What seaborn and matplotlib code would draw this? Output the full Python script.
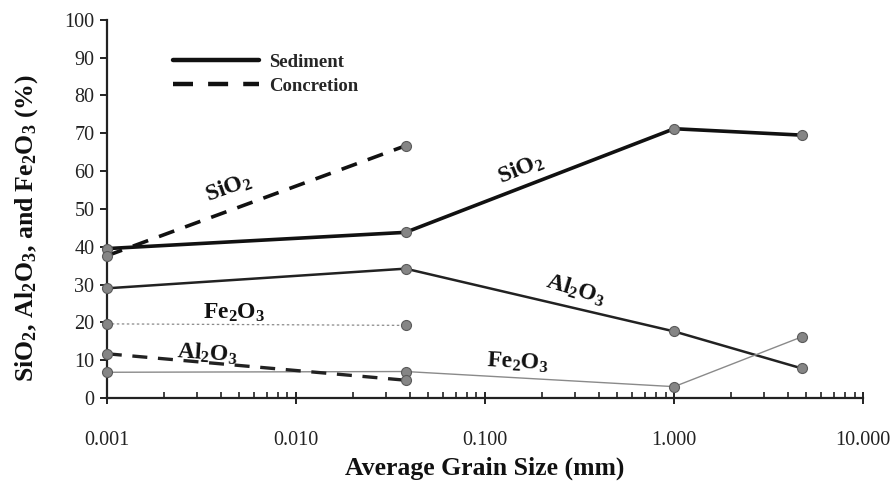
import numpy as np
import pandas as pd
import matplotlib
matplotlib.use("Agg")
import matplotlib.pyplot as plt
from matplotlib.lines import Line2D
from matplotlib.ticker import FixedLocator, FuncFormatter, LogLocator, NullFormatter
import seaborn as sns

# Average grain size of each fraction (mm)
sediment_size = [0.001, 0.038, 1.0, 4.75]
concretion_size = [0.001, 0.038]

# Oxide contents (%)
sediment_sio2 = [39.5, 43.8, 71.2, 69.5]
sediment_al2o3 = [29.0, 34.2, 17.6, 7.8]
sediment_fe2o3 = [6.8, 7.0, 3.0, 16.2]
concretion_sio2 = [37.6, 66.7]
concretion_al2o3 = [11.7, 4.7]
concretion_fe2o3 = [19.6, 19.2]

x_ticks = [0.001, 0.01, 0.1, 1.0, 10.0]
y_ticks = list(range(0, 101, 10))

sns.set_theme(style="white")
plt.rcParams["font.family"] = ["Liberation Serif", "DejaVu Serif"]
plt.rcParams["mathtext.fontset"] = "custom"
plt.rcParams["mathtext.rm"] = "Liberation Serif"
plt.rcParams["mathtext.bf"] = "Liberation Serif:bold"
plt.rcParams["mathtext.it"] = "Liberation Serif:italic"

frames = []
for name, xs, ys in [
    ("sed_sio2", sediment_size, sediment_sio2),
    ("sed_al2o3", sediment_size, sediment_al2o3),
    ("sed_fe2o3", sediment_size, sediment_fe2o3),
    ("con_sio2", concretion_size, concretion_sio2),
    ("con_al2o3", concretion_size, concretion_al2o3),
    ("con_fe2o3", concretion_size, concretion_fe2o3),
]:
    frames.append(pd.DataFrame({"series": name, "size": xs, "pct": ys}))
df = pd.concat(frames, ignore_index=True)

styles = {
    "sed_sio2": dict(color="#111111", lw=2.6, dashes=None),
    "sed_al2o3": dict(color="#222222", lw=1.8, dashes=None),
    "sed_fe2o3": dict(color="#8a8a8a", lw=1.0, dashes=None),
    "con_sio2": dict(color="#111111", lw=2.6, dashes=(4.5, 3.2)),
    "con_al2o3": dict(color="#222222", lw=2.4, dashes=(4.5, 3.2)),
    "con_fe2o3": dict(color="#8a8a8a", lw=0.9, dashes=(2.0, 2.0)),
}

fig = plt.figure(figsize=(8.9, 4.83), dpi=100)
ax = fig.add_axes([0.120, 0.176, 0.850, 0.783])

for name, st in styles.items():
    sub = df[df["series"] == name]
    sns.lineplot(data=sub, x="size", y="pct", ax=ax, estimator=None, sort=False,
                 color=st["color"], linewidth=st["lw"], legend=False)
    line = ax.lines[-1]
    if st["dashes"] is not None:
        line.set_dashes(st["dashes"])
    line.set_clip_on(False)
    ax.scatter(sub["size"], sub["pct"], s=52, color="#858585",
               edgecolor="#5a5a5a", linewidth=0.8, zorder=5, clip_on=False)

ax.set_xscale("log")
ax.set_xlim(0.001, 10)
ax.set_ylim(0, 100)

ax.xaxis.set_major_locator(FixedLocator(x_ticks))
ax.xaxis.set_major_formatter(FuncFormatter(lambda v, p: f"{v:.3f}"))
ax.xaxis.set_minor_locator(LogLocator(base=10, subs=np.arange(2, 10)))
ax.xaxis.set_minor_formatter(NullFormatter())
ax.yaxis.set_major_locator(FixedLocator(y_ticks))

for side in ["top", "right"]:
    ax.spines[side].set_visible(False)
for side in ["left", "bottom"]:
    ax.spines[side].set_color("#222222")
    ax.spines[side].set_linewidth(1.6)

ax.tick_params(axis="x", which="major", direction="inout", length=9, width=1.4,
               color="#222222", labelsize=14.5, pad=19, bottom=True)
ax.tick_params(axis="x", which="minor", direction="in", length=4, width=1.2,
               color="#222222", bottom=True)
ax.tick_params(axis="y", which="major", direction="out", length=5, width=1.4,
               color="#222222", labelsize=14.5, pad=4, left=True)
for lab in ax.get_xticklabels() + ax.get_yticklabels():
    lab.set_color("#222222")

ax.set_xlabel("Average Grain Size (mm)", fontsize=18.5, fontweight="bold",
              color="#111111", labelpad=5)
ax.set_ylabel(r"$\mathbf{SiO_2,\,Al_2O_3,\,and\ Fe_2O_3\ (\%)}$", fontsize=18.5,
              color="#111111")
ax.yaxis.set_label_coords(-0.088, 0.45)

# Oxide labels along the curves
tkw = dict(fontsize=17, color="#111111", ha="center", va="center")
ax.text(0.0044, 55.5, r"$\mathbf{SiO_2}$", rotation=20, **tkw)
ax.text(0.155, 60.5, r"$\mathbf{SiO_2}$", rotation=22, **tkw)
ax.text(0.30, 28.6, r"$\mathbf{Al_2O_3}$", rotation=-17, **tkw)
ax.text(0.0047, 22.5, r"$\mathbf{Fe_2O_3}$", rotation=0, **tkw)
ax.text(0.0034, 11.8, r"$\mathbf{Al_2O_3}$", rotation=-4, **tkw)
ax.text(0.148, 9.4, r"$\mathbf{Fe_2O_3}$", rotation=-3, **tkw)

handles = [
    Line2D([], [], color="#111111", lw=3.2, label="Sediment"),
    Line2D([], [], color="#111111", lw=3.2, dashes=(4.5, 3.4), label="Concretion"),
]
leg = ax.legend(handles=handles, loc="upper left", bbox_to_anchor=(0.065, 0.955),
                frameon=False, handlelength=4.6, handletextpad=0.55,
                labelspacing=0.35, prop={"family": "Liberation Serif",
                                         "weight": "bold", "size": 13.5})

fig.savefig("out.png", dpi=100, facecolor="white")
